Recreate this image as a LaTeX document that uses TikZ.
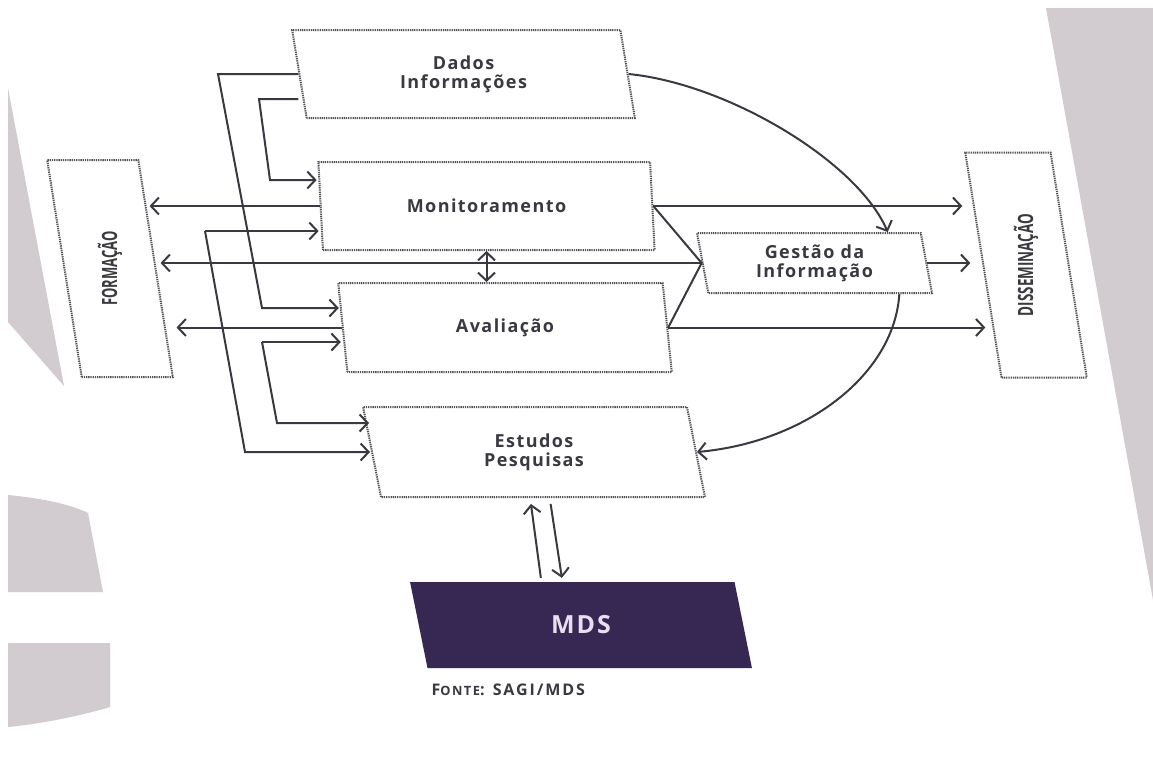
\documentclass[tikz,border=0pt]{standalone}
\usepackage{fontspec}
\usepackage{graphicx}
\setmainfont{Open Sans}
\newfontfamily\lblfont{Open Sans}[LetterSpace=8]
\newfontfamily\srcfont{Open Sans}[LetterSpace=12]
\usetikzlibrary{shapes.geometric,arrows.meta,calc}
\definecolor{ink}{HTML}{3A3840}
\definecolor{dotc}{HTML}{55535A}
\definecolor{bggray}{HTML}{D2CBD0}
\definecolor{mdsfill}{HTML}{372853}
\definecolor{mdstext}{HTML}{E6DFF0}
\tikzset{
  pbox/.style={trapezium, trapezium stretches=true, draw=dotc, line width=2pt,
    dash pattern=on 1.3pt off 0.9pt, inner sep=0pt, align=center, text=ink,
    font=\lblfont\bfseries\fontsize{18}{19}\selectfont},
  sidebox/.style={pbox, font=\bfseries\fontsize{21}{21}\selectfont},
  arr/.style={draw=ink, line width=2pt, -{Straight Barb[length=8pt,width=17pt]}},
  arrtwo/.style={draw=ink, line width=2pt, {Straight Barb[length=8pt,width=17pt]}-{Straight Barb[length=8pt,width=17pt]}},
  plain/.style={draw=ink, line width=2pt},
}
\begin{document}
\begin{tikzpicture}[x=1pt,y=-1pt]
\useasboundingbox (0,0) rectangle (1153,761);
\fill[white] (0,0) rectangle (1153,761);
% background shapes
\fill[bggray] (8,88) -- (64,386) -- (8,322) -- cycle;
\fill[bggray] (8,495) .. controls (40,498) and (70,504) .. (88,513) -- (103,592) -- (8,592) -- cycle;
\fill[bggray] (8,643) -- (110,643) -- (110,707) .. controls (80,716) and (40,724) .. (8,727) -- cycle;
\fill[bggray] (1046,8) -- (1153,8) -- (1153,600) -- cycle;

% boxes
\node[pbox, trapezium left angle=99, trapezium right angle=81, minimum width=343, minimum height=88] (dados) at (463.5,74) {Dados\\Informações};
\node[pbox, trapezium left angle=99, trapezium right angle=81, minimum width=337, minimum height=88] (mon) at (486.5,206) {Monitoramento};
\node[pbox, trapezium left angle=99, trapezium right angle=81, minimum width=334, minimum height=89] (aval) at (505,327.5) {Avaliação};
\node[pbox, trapezium left angle=99, trapezium right angle=81, minimum width=342, minimum height=90] (est) at (534,452) {Estudos\\Pesquisas};
\node[pbox, trapezium left angle=99.5, trapezium right angle=80.5, minimum width=235, minimum height=60] (gestao) at (814.5,263) {Gestão da\\Informação};
\node[sidebox, trapezium left angle=101.3, trapezium right angle=78.7, minimum width=126, minimum height=217] (form) at (110,268.5) {\rotatebox{90}{\scalebox{0.62}[1]{FORMAÇÃO}}};
\node[sidebox, trapezium left angle=100, trapezium right angle=80, minimum width=122, minimum height=225] (diss) at (1026,265) {\rotatebox{90}{\scalebox{0.64}[1]{DISSEMINAÇÃO}}};
\node[trapezium, trapezium stretches=true, trapezium left angle=100.5, trapezium right angle=79.5, minimum width=342, minimum height=86, fill=mdsfill, text=mdstext, inner sep=0pt, font=\lblfont\bfseries\fontsize{25}{25}\selectfont] (mds) at (581,625) {MDS};
\node[text=ink, font=\srcfont\bfseries\fontsize{16}{16}\selectfont, anchor=west] (fonte) at (428,690) {F\scalebox{0.8}{ONTE}: SAGI/MDS};

% corner points of the left connectors
\coordinate (cA1) at (218,74);
\coordinate (cA2) at (262,308);
\coordinate (cB1) at (259,99);
\coordinate (cB2) at (270,180);
\coordinate (cC1) at (205,231);
\coordinate (cC2) at (245,452);
\coordinate (cD1) at (262,342);
\coordinate (cD2) at (277,423);

\draw[arr, shorten >=3pt] (dados.left side) -- (cA1) -- (cA2) -- (cA2 -| aval.left side);
\draw[arr, shorten >=3pt] (cB1 -| dados.left side) -- (cB1) -- (cB2) -- (cB2 -| mon.left side);
\draw[arr, shorten >=1pt] (cC1) -- (cC1 -| mon.left side);
\draw[arr, shorten >=1pt] (cC1) -- (cC2) -- (cC2 -| est.left side);
\draw[arr, shorten >=1pt] (cD1) -- (cD1 -| aval.left side);
\draw[arr, shorten >=2pt] (cD1) -- (cD2) -- (cD2 -| est.left side);

% to Formação
\draw[arr, shorten >=-7pt] (mon.left side) -- (mon.left side -| form.right side);
\draw[arr, shorten >=4pt] (gestao.left side) -- (gestao.left side -| form.right side);
\draw[arr, shorten >=20pt] (aval.left side) -- (aval.left side -| form.right side);

% to Gestão
\draw[plain] (mon.right side) -- (gestao.left side) -- (aval.right side);

% to Disseminação
\draw[arr, shorten >=20pt] (mon.right side) -- (mon.right side -| diss.left side);
\draw[arr, shorten >=12pt] (gestao.right side) -- (gestao.right side -| diss.left side);
\draw[arr, shorten >=-3pt] (aval.right side) -- (aval.right side -| diss.left side);

% Monitoramento <-> Avaliação
\draw[arrtwo] (mon.south) -- (mon.south |- aval.north);

% curves
\draw[arr] (dados.right side) .. controls +(100,10) and +(-30,-70) .. ($(gestao.top left corner)!0.85!(gestao.top right corner)$);
\draw[arr] ($(gestao.bottom left corner)!0.85!(gestao.bottom right corner)$) .. controls +(-5,80) and +(110,-10) .. (est.right side);

% Estudos <-> MDS
\draw[arr, shorten <=4pt, shorten >=6pt] ($(mds.top left corner)!0.405!(mds.top right corner)$) -- ($(est.bottom left corner)!0.46!(est.bottom right corner)$);
\draw[arr, shorten <=6pt, shorten >=4pt] ($(est.bottom left corner)!0.52!(est.bottom right corner)$) -- ($(mds.top left corner)!0.47!(mds.top right corner)$);
\end{tikzpicture}
\end{document}
